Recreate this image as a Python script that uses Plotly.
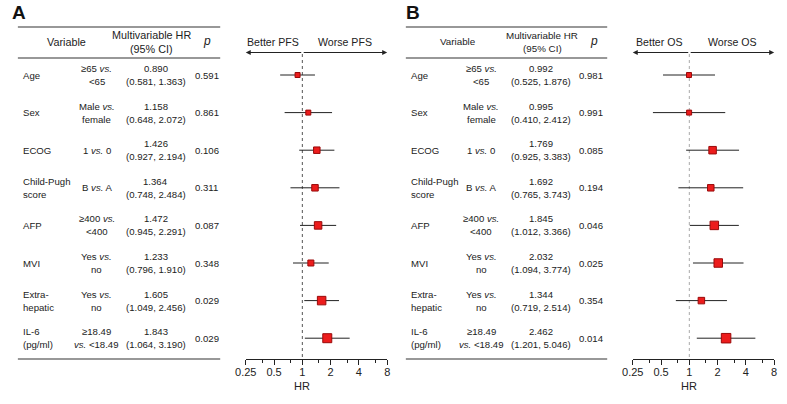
import math
import plotly.graph_objects as go

# ---------------- data ----------------
var_names = ["Age", "Sex", "ECOG", "Child-Pugh\nscore", "AFP", "MVI", "Extra-\nhepatic", "IL-6\n(pg/ml)"]
comparisons = ["≥65 <i>vs.</i>\n&lt;65", "Male <i>vs.</i>\nfemale", "1 <i>vs.</i> 0", "B <i>vs.</i> A",
               "≥400 <i>vs.</i>\n&lt;400", "Yes <i>vs.</i>\nno", "Yes <i>vs.</i>\nno", "≥18.49\n<i>vs.</i> &lt;18.49"]

hr_pfs = [0.890, 1.158, 1.426, 1.364, 1.472, 1.233, 1.605, 1.843]
lo_pfs = [0.581, 0.648, 0.927, 0.748, 0.945, 0.796, 1.049, 1.064]
hi_pfs = [1.363, 2.072, 2.194, 2.484, 2.291, 1.910, 2.456, 3.190]
p_pfs = ["0.591", "0.861", "0.106", "0.311", "0.087", "0.348", "0.029", "0.029"]
w_pfs = [5, 5, 6.5, 6.5, 7.5, 6, 8.5, 9]

hr_os = [0.992, 0.995, 1.769, 1.692, 1.845, 2.032, 1.344, 2.462]
lo_os = [0.525, 0.410, 0.925, 0.765, 1.012, 1.094, 0.719, 1.201]
hi_os = [1.876, 2.412, 3.383, 3.743, 3.366, 3.774, 2.514, 5.046]
p_os = ["0.981", "0.991", "0.085", "0.194", "0.046", "0.025", "0.354", "0.014"]
w_os = [5, 5, 7.5, 6.5, 8.5, 8.5, 6.5, 9.5]

tick_vals = [0.25, 0.5, 1, 2, 4, 8]
tick_text = ["0.25", "0.5", "1", "2", "4", "8"]
minor_vals = [0.375, 0.75, 1.5, 3, 6]

# ---------------- layout helpers ----------------
W, H = 787, 404
FONT = "Liberation Sans, Arial, sans-serif"
ROW0, STEP = 75.0, 37.6
Y_BOT, Y_TOP = 359.0, 27.0


def px(x):
    return x / W


def py(y):
    return 1 - y / H


def yrow(ypix):
    return (ypix - ROW0) / STEP


n = len(var_names)
rows = list(range(n))

fig = go.Figure()

panels = [
    dict(xa="x", hr=hr_pfs, lo=lo_pfs, hi=hi_pfs, p=p_pfs, w=w_pfs, label="A",
         better="Better PFS", worse="Worse PFS", ax0=239, ax1=383, one=296,
         t0=7, t1=213, name_x=10, comp_x=87.5, hr_x=147.5, p_x=185,
         hvar=56, hhr=143, hp=200, hfs=10.8, lab_x=8, dotcol="#555555"),
    dict(xa="x2", hr=hr_os, lo=lo_os, hi=hi_os, p=p_os, w=w_os, label="B",
         better="Better OS", worse="Worse OS", ax0=633, ax1=777, one=690,
         t0=402, t1=607, name_x=405, comp_x=479, hr_x=540, p_x=576,
         hvar=455, hhr=541, hp=594, hfs=9.8, lab_x=409, dotcol="#aaaaaa"),
]

ann = []
shapes = []
bfont = dict(family=FONT, size=9.6, color="#222222")


def cell(text, xpix, i, anchor):
    parts = text.split("\n")
    shifts = [0] if len(parts) == 1 else [6.5, -6.5]
    for t, s in zip(parts, shifts):
        ann.append(dict(text=t, x=px(xpix), y=i, xref="paper", yref="y", yshift=s,
                        xanchor=anchor, yanchor="middle", showarrow=False, font=bfont))


for P in panels:
    xa = P["xa"]
    # reference dotted line at HR = 1
    fig.add_trace(go.Scatter(x=[1, 1], y=[yrow(54), yrow(Y_BOT)], mode="lines", xaxis=xa, yaxis="y",
                             line=dict(color=P["dotcol"], width=1, dash="dot"), hoverinfo="skip",
                             showlegend=False))
    # CI lines
    xs, ys = [], []
    for i in rows:
        xs += [P["lo"][i], P["hi"][i], None]
        ys += [i, i, None]
    fig.add_trace(go.Scatter(x=xs, y=ys, mode="lines", xaxis=xa, yaxis="y",
                             line=dict(color="#222222", width=1), hoverinfo="skip", showlegend=False))
    # point estimates
    fig.add_trace(go.Scatter(x=P["hr"], y=rows, mode="markers", xaxis=xa, yaxis="y",
                             marker=dict(symbol="square", size=P["w"], color="#ec1c1c", opacity=1,
                                         line=dict(color="#9a0a0a", width=1)),
                             showlegend=False))

    # panel label
    ann.append(dict(text="<b>" + P["label"] + "</b>", x=px(P["lab_x"]), y=py(12.5), xref="paper", yref="paper",
                    xanchor="center", yanchor="middle", showarrow=False,
                    font=dict(family=FONT, size=19, color="#111111")))

    # table lines
    for yy in (Y_TOP, 58, Y_BOT):
        shapes.append(dict(type="line", xref="paper", yref="paper", x0=px(P["t0"]), x1=px(P["t1"]),
                           y0=py(yy), y1=py(yy), line=dict(color="#333333", width=1.2)))

    # header
    hf = dict(family=FONT, size=P["hfs"], color="#222222")
    ann.append(dict(text="Variable", x=px(P["hvar"]), y=py(42), xref="paper", yref="paper",
                    xanchor="center", yanchor="middle", showarrow=False, font=hf))
    ann.append(dict(text="Multivariable HR", x=px(P["hhr"]), y=py(35.5), xref="paper", yref="paper",
                    xanchor="center", yanchor="middle", showarrow=False, font=hf))
    ann.append(dict(text="(95% CI)", x=px(P["hhr"]), y=py(48.5), xref="paper", yref="paper",
                    xanchor="center", yanchor="middle", showarrow=False, font=hf))
    ann.append(dict(text="<i>p</i>", x=px(P["hp"]), y=py(41), xref="paper", yref="paper",
                    xanchor="center", yanchor="middle", showarrow=False,
                    font=dict(family=FONT, size=12, color="#222222")))

    # better/worse header with arrows
    bf = dict(family=FONT, size=10.6, color="#222222")
    ann.append(dict(text=P["better"], x=px((P["ax0"] + P["one"]) / 2 - 1), y=py(42.5), xref="paper",
                    yref="paper", xanchor="center", yanchor="middle", showarrow=False, font=bf))
    ann.append(dict(text=P["worse"], x=px((P["one"] + P["ax1"]) / 2 + 1), y=py(42.5), xref="paper",
                    yref="paper", xanchor="center", yanchor="middle", showarrow=False, font=bf))
    ann.append(dict(text="", x=px(P["ax0"]), y=py(52.5), xref="paper", yref="paper", showarrow=True,
                    ax=P["one"] - P["ax0"], ay=0, arrowhead=2, arrowsize=1, arrowwidth=1,
                    arrowcolor="#222222", standoff=0, startstandoff=0))
    ann.append(dict(text="", x=px(P["ax1"]), y=py(52.5), xref="paper", yref="paper", showarrow=True,
                    ax=-(P["ax1"] - P["one"] - 2), ay=0, arrowhead=2, arrowsize=1, arrowwidth=1,
                    arrowcolor="#222222", standoff=0, startstandoff=0))

    # HR axis title
    ann.append(dict(text="HR", x=px(P["one"]), y=py(386), xref="paper", yref="paper",
                    xanchor="center", yanchor="middle", showarrow=False,
                    font=dict(family=FONT, size=11, color="#222222")))

    # table body
    for i in rows:
        cell(var_names[i], P["name_x"], i, "left")
        cell(comparisons[i], P["comp_x"], i, "center")
        cell(f"{P['hr'][i]:.3f}\n({P['lo'][i]:.3f}, {P['hi'][i]:.3f})", P["hr_x"], i, "center")
        cell(P["p"][i], P["p_x"], i, "left")

axis_common = dict(type="log", range=[math.log10(0.25), math.log10(8)], tickmode="array",
                   tickvals=tick_vals, ticktext=tick_text, ticks="outside", ticklen=5, tickwidth=1,
                   tickcolor="#222222", showline=True, linecolor="#222222", linewidth=1,
                   showgrid=False, zeroline=False, anchor="y", fixedrange=True,
                   ticklabelstandoff=-2,
                   tickfont=dict(family=FONT, size=11, color="#222222"),
                   minor=dict(tickmode="array", tickvals=minor_vals, ticks="outside", ticklen=3,
                              tickwidth=1, tickcolor="#222222", showgrid=False))

fig.update_layout(
    width=W, height=H, margin=dict(l=0, r=0, t=0, b=0),
    paper_bgcolor="white", plot_bgcolor="white", showlegend=False,
    xaxis=dict(domain=[px(239), px(383)], **axis_common),
    xaxis2=dict(domain=[px(633), px(777)], **axis_common),
    yaxis=dict(domain=[py(Y_BOT), py(Y_TOP)], range=[yrow(Y_BOT), yrow(Y_TOP)], visible=False,
               fixedrange=True),
    annotations=ann, shapes=shapes,
)

fig.write_html("out.html", config={"displayModeBar": False},
               post_script="document.body.style.margin='0';document.body.style.overflow='hidden';")
